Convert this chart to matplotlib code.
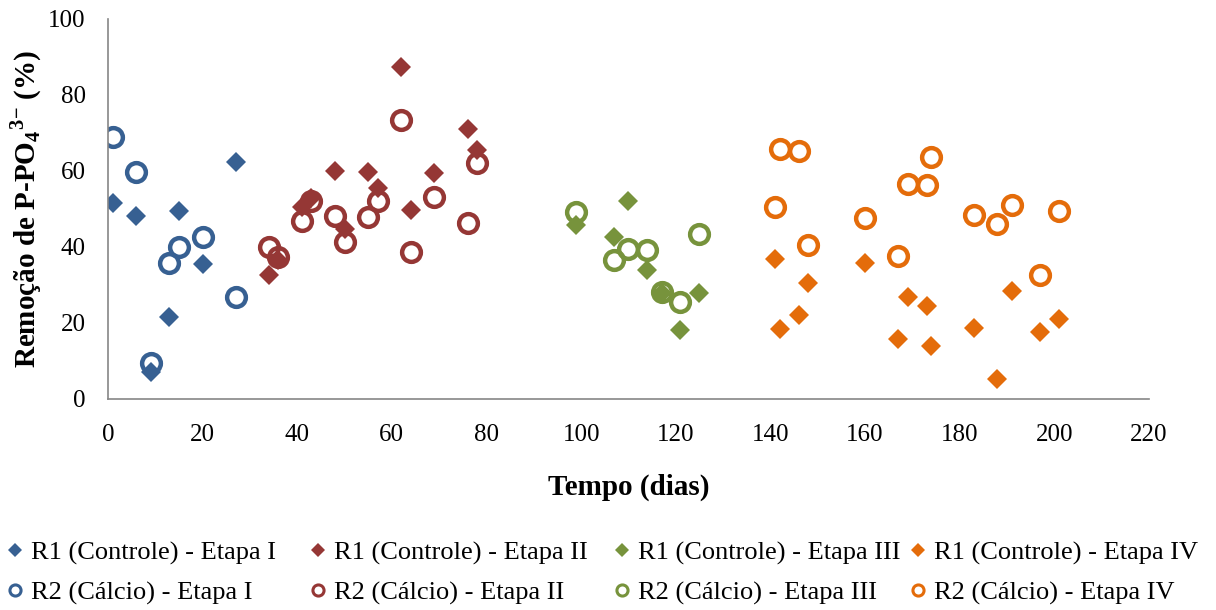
import matplotlib
matplotlib.use("Agg")
import matplotlib.pyplot as plt

plt.rcParams['font.family'] = ['Liberation Serif', 'DejaVu Serif']
plt.rcParams['mathtext.fontset'] = 'custom'
plt.rcParams['mathtext.rm'] = 'Liberation Serif'
plt.rcParams['mathtext.bf'] = 'Liberation Serif:bold'

# --- data ---
# Etapa I
r1_e1_x = [1, 6, 9, 13, 15, 20, 27]
r1_e1_y = [51.6, 48.2, 7.1, 21.6, 49.5, 35.5, 62.4]
r2_e1_x = [1, 6, 9, 13, 15, 20, 27]
r2_e1_y = [69.0, 59.7, 9.5, 35.8, 40.0, 42.6, 26.8]

# Etapa II
r1_e2_x = [34, 36, 41, 43, 48, 50, 55, 57, 62, 64, 69, 76, 78]
r1_e2_y = [32.5, 36.5, 50.6, 53.0, 60.0, 44.7, 59.6, 55.4, 87.4, 49.6, 59.4, 71.0, 65.5]
r2_e2_x = [34, 36, 41, 43, 48, 50, 55, 57, 62, 64, 69, 76, 78]
r2_e2_y = [40.0, 37.4, 46.7, 52.1, 48.2, 41.4, 48.0, 52.1, 73.4, 38.6, 53.2, 46.4, 62.0]

# Etapa III
r1_e3_x = [99, 107, 110, 114, 117, 121, 125]
r1_e3_y = [45.8, 42.7, 52.2, 34.0, 28.0, 18.2, 27.8]
r2_e3_x = [99, 107, 110, 114, 117, 121, 125]
r2_e3_y = [49.3, 36.6, 39.5, 39.2, 28.1, 25.4, 43.4]

# Etapa IV
r1_e4_x = [141, 142, 146, 148, 160, 167, 169, 173, 174, 183, 188, 191, 197, 201]
r1_e4_y = [36.8, 18.4, 22.1, 30.6, 35.7, 15.7, 26.8, 24.5, 13.8, 18.6, 5.2, 28.4, 17.6, 21.1]
r2_e4_x = [141, 142, 146, 148, 160, 167, 169, 173, 174, 183, 188, 191, 197, 201]
r2_e4_y = [50.4, 65.7, 65.3, 40.5, 47.7, 37.6, 56.6, 56.3, 63.6, 48.4, 46.0, 51.0, 32.6, 49.5]

etapas = ["I", "II", "III", "IV"]
colors = ["#376092", "#953735", "#77933C", "#E46C0A"]
r1_series = [(r1_e1_x, r1_e1_y), (r1_e2_x, r1_e2_y), (r1_e3_x, r1_e3_y), (r1_e4_x, r1_e4_y)]
r2_series = [(r2_e1_x, r2_e1_y), (r2_e2_x, r2_e2_y), (r2_e3_x, r2_e3_y), (r2_e4_x, r2_e4_y)]

fig = plt.figure(figsize=(12.16, 6.10), dpi=100)
ax = fig.add_axes([0.0888, 0.346, 0.856, 0.623])

# legend column anchors (figure fraction)
leg_x = [0.0037, 0.2529, 0.5029, 0.7463]

for et, c, (x1, y1), (x2, y2), lx in zip(etapas, colors, r1_series, r2_series, leg_x):
    ax.plot(x1, y1, linestyle="none", marker="D", ms=10, color=c, mew=0)
    ax.plot(x2, y2, linestyle="none", marker="o", ms=13.5, mfc="none", mec=c, mew=3.2)
    # small legend markers, one legend per column
    lh1 = plt.Line2D([], [], linestyle="none", marker="D", ms=7, color=c, mew=0)
    lh2 = plt.Line2D([], [], linestyle="none", marker="o", ms=8, mfc="none", mec=c, mew=2.2)
    fig.legend([lh1, lh2], [f"R1 (Controle) - Etapa {et}", f"R2 (Cálcio) - Etapa {et}"],
               loc="upper left", bbox_to_anchor=(lx, 0.113), frameon=False, fontsize=19,
               handlelength=0.8, handletextpad=0.2, labelspacing=0.6,
               borderpad=0, borderaxespad=0)

ax.set_xlim(0, 220)
ax.set_ylim(0, 100)
ax.set_xticks(range(0, 221, 20))
ax.set_yticks(range(0, 101, 20))
ax.tick_params(axis="both", length=0, labelsize=18)
ax.tick_params(axis="x", pad=18)
ax.tick_params(axis="y", pad=16)
for s in ["top", "right"]:
    ax.spines[s].set_visible(False)
for s in ["left", "bottom"]:
    ax.spines[s].set_color("#868686")
    ax.spines[s].set_linewidth(1.2)

ax.set_xlabel("Tempo (dias)", fontsize=21, fontweight="bold", labelpad=20)
ax.set_ylabel(r"Remoção de P-PO$_\mathbf{4}$$^\mathbf{3}$$^\mathbf{-}$ (%)", fontsize=21,
              fontweight="bold", labelpad=3)

fig.savefig("out.png", dpi=100)
